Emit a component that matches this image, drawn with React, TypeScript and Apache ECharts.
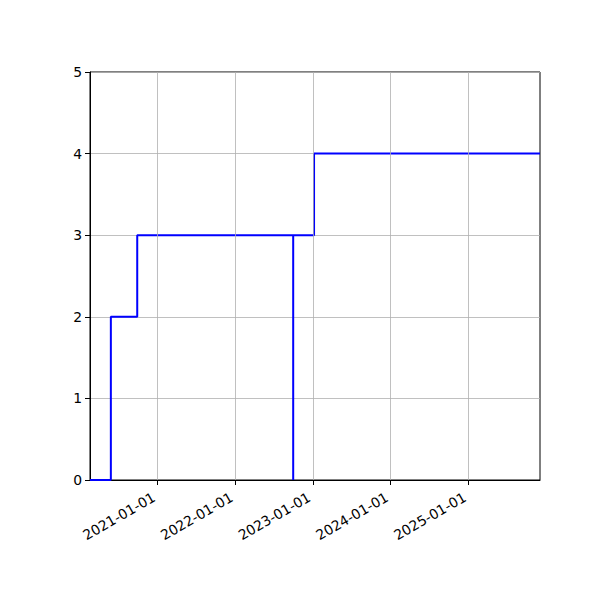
import { useEffect, useRef } from "react";
import * as echarts from "echarts";

// path vertices of the step line (date, count)
const stepDates = [
  "2020-02-19",
  "2020-05-27",
  "2020-05-27",
  "2020-09-28",
  "2020-09-28",
  "2022-10-01",
  "2022-10-01",
  "2022-10-01",
  "2023-01-07",
  "2023-01-07",
  "2025-12-04",
];
const stepValues = [0, 0, 2, 2, 3, 3, 0, 3, 3, 4, 4];

const xTickDates = ["2021-01-01", "2022-01-01", "2023-01-01", "2024-01-01", "2025-01-01"];
const xMin = "2020-02-19";
const xMax = "2025-12-04";

const FONT = "DejaVu Sans";

export default function App() {
  const chartRef = useRef<HTMLDivElement>(null);

  useEffect(() => {
    document.body.style.margin = "0";
    if (!chartRef.current) return;
    const chart = echarts.init(chartRef.current, null, { renderer: "svg" });

    const ts = (d: string) => new Date(d + "T00:00:00Z").getTime();
    const tickTs = xTickDates.map(ts);
    const pad = (n: number) => String(n).padStart(2, "0");

    chart.setOption({
      animation: false,
      backgroundColor: "#ffffff",
      grid: {
        left: 90,
        right: 60,
        top: 72,
        bottom: 120,
        show: true,
        borderColor: "#000000",
        borderWidth: 1,
        backgroundColor: "transparent",
      },
      xAxis: {
        type: "value",
        min: ts(xMin),
        max: ts(xMax),
        axisLine: { show: true, lineStyle: { color: "#000000", width: 1 } },
        axisTick: {
          show: true,
          inside: false,
          length: 5,
          lineStyle: { color: "#000000", width: 1 },
          customValues: tickTs,
        },
        axisLabel: {
          customValues: tickTs,
          rotate: 30,
          margin: 22,
          align: "right",
          verticalAlign: "bottom",
          color: "#000000",
          fontFamily: FONT,
          fontSize: 13.9,
          formatter: (v: number) => {
            const d = new Date(v);
            return `${d.getUTCFullYear()}-${pad(d.getUTCMonth() + 1)}-${pad(d.getUTCDate())}`;
          },
        },
        splitLine: { show: false },
      },
      yAxis: {
        type: "value",
        min: 0,
        max: 5,
        interval: 1,
        axisLine: { show: true, lineStyle: { color: "#000000", width: 1 } },
        axisTick: { show: true, inside: false, length: 5, lineStyle: { color: "#000000" } },
        axisLabel: { color: "#000000", fontFamily: FONT, fontSize: 13.9, margin: 8 },
        splitLine: { show: true, lineStyle: { color: "#b0b0b0", width: 0.8 } },
      },
      series: [
        {
          // vertical grid lines at the date ticks
          type: "line",
          data: [],
          z: 1,
          silent: true,
          markLine: {
            silent: true,
            symbol: "none",
            label: { show: false },
            lineStyle: { color: "#b0b0b0", width: 0.8, type: "solid" },
            data: tickTs.map((t) => ({ xAxis: t })),
          },
        },
        {
          type: "line",
          z: 3,
          showSymbol: false,
          symbol: "none",
          lineStyle: { color: "#0000ff", width: 2 },
          data: stepDates.map((d, i) => [ts(d), stepValues[i]]),
        },
      ],
    });

    return () => {
      chart.dispose();
    };
  }, []);

  return <div ref={chartRef} style={{ width: "600px", height: "600px" }} />;
}
